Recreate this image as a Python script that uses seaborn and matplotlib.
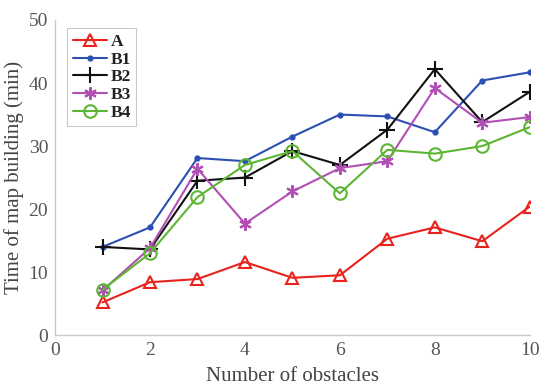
import matplotlib
matplotlib.use("Agg")
import matplotlib.pyplot as plt
import seaborn as sns
import pandas as pd

x = [1, 2, 3, 4, 5, 6, 7, 8, 9, 10]
A = [5.2, 8.4, 8.9, 11.6, 9.1, 9.5, 15.3, 17.1, 14.9, 20.4]
B1 = [14.0, 17.1, 28.1, 27.6, 31.5, 35.0, 34.7, 32.2, 40.4, 41.7]
B2 = [14.0, 13.6, 24.5, 25.0, 29.2, 27.0, 32.6, 42.2, 33.8, 38.6]
B3 = [7.1, 13.8, 26.4, 17.7, 22.8, 26.5, 27.6, 39.2, 33.7, 34.6]
B4 = [7.2, 13.0, 21.9, 27.0, 29.2, 22.5, 29.4, 28.8, 30.0, 33.0]
names = ["A", "B1", "B2", "B3", "B4"]
series = [A, B1, B2, B3, B4]

sns.set_style("white")
plt.rcParams['font.family'] = ['Liberation Serif', 'DejaVu Serif']

colors = {"A": "#e8231e", "B1": "#2b4fb3", "B2": "#111111", "B3": "#b24fb5", "B4": "#5db534"}
markers = {"A": "^", "B1": ".", "B2": "+", "B3": (6, 2, 0), "B4": "o"}
msize = {"A": 9, "B1": 6, "B2": 11, "B3": 9, "B4": 9}

fig = plt.figure(figsize=(5.45, 3.92), dpi=100)
ax = fig.add_axes([0.101, 0.145, 0.871, 0.804])

for n, s in zip(names, series):
    df = pd.DataFrame({"x": x, "y": s})
    mfc = "none" if n in ("A", "B4") else colors[n]
    sns.lineplot(data=df, x="x", y="y", ax=ax, color=colors[n], marker=markers[n],
                 markersize=msize[n], markerfacecolor=mfc, markeredgecolor=colors[n],
                 markeredgewidth=1.5, linewidth=1.5, label=n)

ax.set_xlim(0, 10)
ax.set_ylim(0, 50)
ax.set_xticks([0, 2, 4, 6, 8, 10])
ax.set_yticks([0, 10, 20, 30, 40, 50])
ax.set_xlabel("Number of obstacles", fontsize=15, color="#444444", labelpad=6)
ax.set_ylabel("Time of map building (min)", fontsize=15, color="#444444", labelpad=3)
ax.tick_params(axis="both", direction="in", length=4, width=0.8, colors="#bbbbbb",
               labelcolor="#555555", labelsize=14, pad=5)
for side in ("top", "right"):
    ax.spines[side].set_visible(False)
for side in ("left", "bottom"):
    ax.spines[side].set_color("#c8c8c8")
    ax.spines[side].set_linewidth(1.0)

leg = ax.legend(loc="upper left", bbox_to_anchor=(0.015, 0.99), frameon=True, fancybox=False,
                edgecolor="#bbbbbb", fontsize=12.5, handlelength=2.0, handletextpad=0.2,
                labelspacing=0.1, borderpad=0.3, borderaxespad=0.3)
for t in leg.get_texts():
    t.set_fontweight("bold")
    t.set_color("#222222")
leg.get_frame().set_linewidth(0.8)

fig.savefig("out.png", dpi=100)
